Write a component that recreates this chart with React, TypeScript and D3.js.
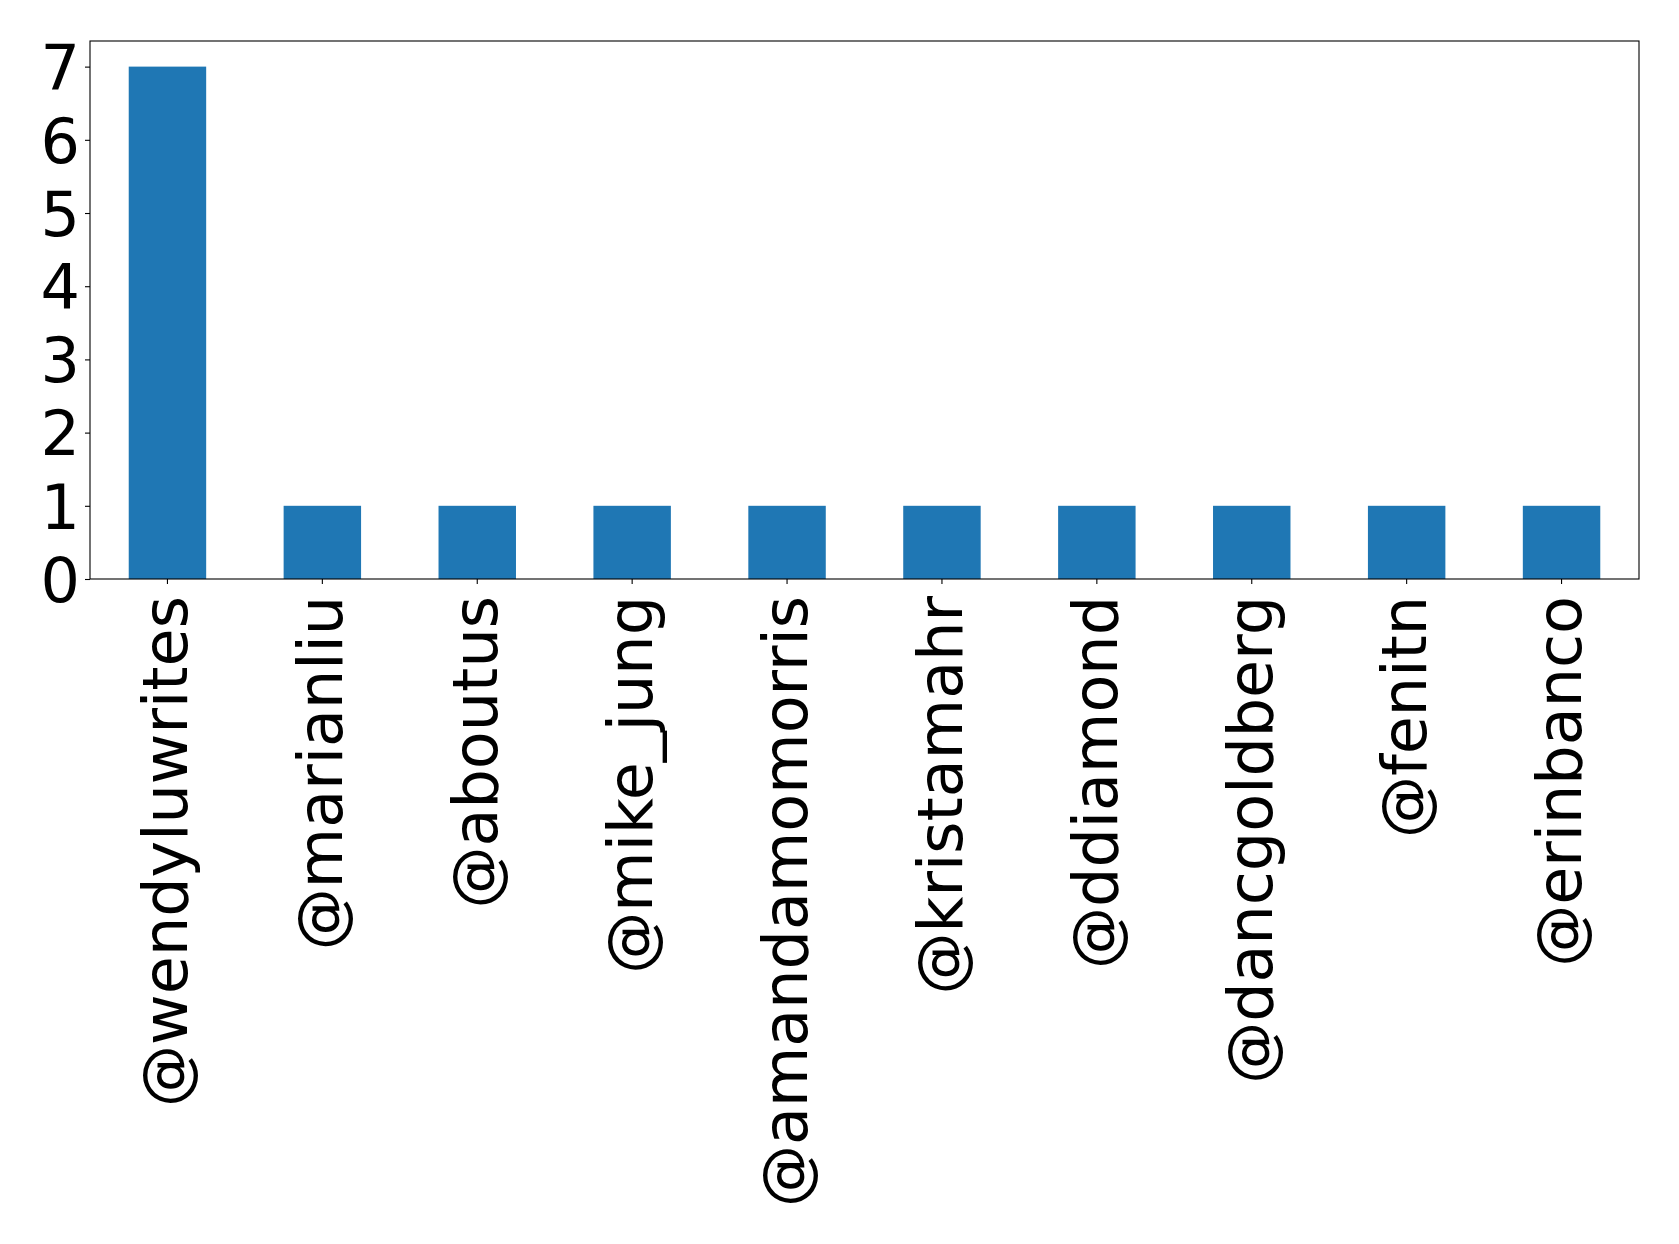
import React, { useEffect, useRef } from "react";
import * as d3 from "d3";

const users = [
  "@wendyluwrites",
  "@marianliu",
  "@aboutus",
  "@mike_jung",
  "@amandamomorris",
  "@kristamahr",
  "@ddiamond",
  "@dancgoldberg",
  "@fenitn",
  "@erinbanco",
];
const counts = [7, 1, 1, 1, 1, 1, 1, 1, 1, 1];
const yTicks = [0, 1, 2, 3, 4, 5, 6, 7];

const W = 1679;
const H = 1244;
const margin = { top: 41, right: 40, bottom: 665, left: 90 };

export default function App() {
  const ref = useRef<SVGSVGElement>(null);

  useEffect(() => {
    const svg = d3.select(ref.current);
    svg.selectAll("*").remove();

    const width = W - margin.left - margin.right;
    const height = H - margin.top - margin.bottom;

    const g = svg
      .append("g")
      .attr("transform", "translate(" + margin.left + "," + margin.top + ")");

    const x = d3
      .scaleBand()
      .domain(users)
      .range([0, width])
      .paddingInner(0.5)
      .paddingOuter(0.25);

    const y = d3.scaleLinear().domain([0, 7.35]).range([height, 0]);

    // bars
    g.selectAll("rect.bar")
      .data(users)
      .enter()
      .append("rect")
      .attr("class", "bar")
      .attr("x", (d) => x(d) as number)
      .attr("y", (d, i) => y(counts[i]))
      .attr("width", x.bandwidth())
      .attr("height", (d, i) => y(0) - y(counts[i]))
      .attr("fill", "#1f77b4");

    // x axis
    const xAxis = g
      .append("g")
      .attr("transform", "translate(0," + height + ")")
      .call(d3.axisBottom(x).tickSize(5).tickPadding(5).tickSizeOuter(0));
    xAxis.select(".domain").remove();
    xAxis.selectAll("line").attr("stroke", "#000").attr("stroke-width", 1.1);
    xAxis
      .selectAll("text")
      .attr("font-family", "'DejaVu Sans', sans-serif")
      .attr("font-size", 62)
      .attr("fill", "#000")
      .attr("transform", "rotate(-90)")
      .attr("x", -17)
      .attr("y", 0)
      .attr("dy", "0.32em")
      .style("text-anchor", "end");

    // y axis
    const yAxis = g
      .append("g")
      .call(d3.axisLeft(y).tickValues(yTicks).tickSize(5).tickPadding(5).tickSizeOuter(0));
    yAxis.select(".domain").remove();
    yAxis.selectAll("line").attr("stroke", "#000").attr("stroke-width", 1.1);
    yAxis
      .selectAll("text")
      .attr("font-family", "'DejaVu Sans', sans-serif")
      .attr("font-size", 62)
      .attr("fill", "#000")
      .attr("dy", "0.36em");

    // frame
    g.append("rect")
      .attr("x", 0)
      .attr("y", 0)
      .attr("width", width)
      .attr("height", height)
      .attr("fill", "none")
      .attr("stroke", "#000")
      .attr("stroke-width", 1.1);
  }, []);

  return (
    <svg
      ref={ref}
      width={W}
      height={H}
      style={{ position: "absolute", left: 0, top: 0, background: "#fff" }}
    />
  );
}
